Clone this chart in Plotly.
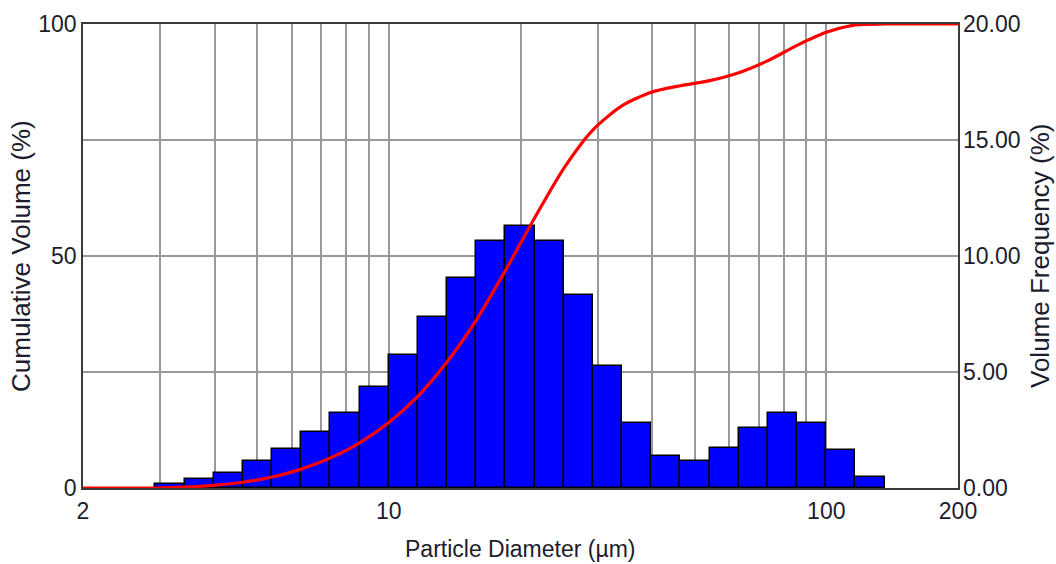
import numpy as np
import plotly.graph_objects as go

# Bin edges of the size classes (µm)
bin_edges_um = [2.929, 3.415, 3.981, 4.642, 5.412, 6.310, 7.356, 8.577, 10.0,
                11.66, 13.59, 15.85, 18.48, 21.54, 25.12, 29.29, 34.15, 39.81,
                46.42, 54.12, 63.10, 73.56, 85.77, 100.0, 116.6, 135.9]
# Volume frequency (%) per class
volume_freq = [0.17, 0.40, 0.66, 1.15, 1.69, 2.42, 3.24, 4.37, 5.74, 7.36,
               9.04, 10.66, 11.30, 10.66, 8.32, 5.26, 2.82, 1.39, 1.15, 1.71,
               2.60, 3.24, 2.82, 1.62, 0.49]
# Cumulative volume (%) curve
cum_x_um = [2.0] + bin_edges_um + [200.0]
cum_volume = [0, 0, 0.17, 0.57, 1.23, 2.38, 4.07, 6.49, 9.73, 14.1, 19.8, 27.2,
              36.2, 46.9, 58.2, 68.9, 77.2, 82.4, 85.3, 86.7, 87.8, 89.5, 92.1,
              95.4, 98.2, 99.8, 100, 100]

x_tick_vals = [2, 3, 4, 5, 6, 7, 8, 9, 10, 20, 30, 40, 50, 60, 70, 80, 90, 100, 200]
x_tick_labels = {2: "2", 10: "10", 100: "100", 200: "200"}
left_ticks = [0, 25, 50, 75, 100]
left_labels = ["0", "", "50", "", "100"]
right_ticks = [0, 5, 10, 15, 20]
right_labels = ["0.00", "5.00", "10.00", "15.00", "20.00"]

x_title = "Particle Diameter (µm)"
left_title = "Cumulative Volume (%)"
right_title = "Volume Frequency (%)"

edges_log = np.log10(bin_edges_um)
centers = (edges_log[:-1] + edges_log[1:]) / 2
widths = edges_log[1:] - edges_log[:-1]

FONT = "Liberation Sans, Arial, sans-serif"
TXT = "#1c1c2c"
GRID = "#999999"
BORDER = "#3a3a3a"

fig = go.Figure()
fig.add_trace(go.Bar(
    x=centers, y=volume_freq, width=widths,
    marker=dict(color="#0000ff", line=dict(color="#000000", width=1.5)),
    xaxis="x", yaxis="y", showlegend=False,
))
fig.add_trace(go.Scatter(
    x=cum_x_um, y=cum_volume, mode="lines",
    line=dict(color="#ff0000", width=3.2, shape="spline", smoothing=0.7),
    xaxis="x2", yaxis="y2", showlegend=False,
))

xr = [np.log10(2), np.log10(200)]
fig.update_layout(
    width=1056, height=564,
    margin=dict(l=83, r=98, t=24, b=76),
    paper_bgcolor="white", plot_bgcolor="white",
    bargap=0,
    font=dict(family=FONT, size=23, color=TXT),
    xaxis=dict(type="linear", range=xr, visible=False, fixedrange=True,
               automargin=False),
    yaxis=dict(range=[0, 20], side="right", tickvals=right_ticks,
               ticktext=right_labels, showgrid=False, zeroline=False,
               showline=False, ticks="", ticklabelstandoff=4,
               automargin=False),
    xaxis2=dict(type="log", range=xr, overlaying="x", side="bottom",
                tickvals=x_tick_vals,
                ticktext=[x_tick_labels.get(v, "") for v in x_tick_vals],
                showgrid=True, gridcolor=GRID, gridwidth=1.5,
                showline=True, linecolor=BORDER, linewidth=1.5, mirror=True,
                ticks="", zeroline=False, ticklabelstandoff=2,
                automargin=False),
    yaxis2=dict(range=[0, 100], overlaying="y", side="left",
                tickvals=left_ticks, ticktext=left_labels,
                showgrid=True, gridcolor=GRID, gridwidth=1.5,
                showline=True, linecolor=BORDER, linewidth=1.5, mirror=True,
                ticks="", zeroline=False, ticklabelstandoff=0,
                automargin=False),
    annotations=[
        dict(text=x_title, xref="paper", yref="paper", x=0.5, y=0,
             xanchor="center", yanchor="middle", yshift=-61, showarrow=False,
             borderpad=0, font=dict(size=23)),
        dict(text=left_title, xref="paper", yref="paper", x=0, y=0.5,
             xanchor="center", yanchor="middle", xshift=-62, textangle=-90,
             showarrow=False, borderpad=0, font=dict(size=26)),
        dict(text=right_title, xref="paper", yref="paper", x=1, y=0.5,
             xanchor="center", yanchor="middle", xshift=82, textangle=-90,
             showarrow=False, borderpad=0, font=dict(size=26)),
    ],
)

fig.write_html(
    "out.html",
    config={"displayModeBar": False},
    post_script="document.body.style.margin='0';document.body.style.overflow='hidden';",
)
